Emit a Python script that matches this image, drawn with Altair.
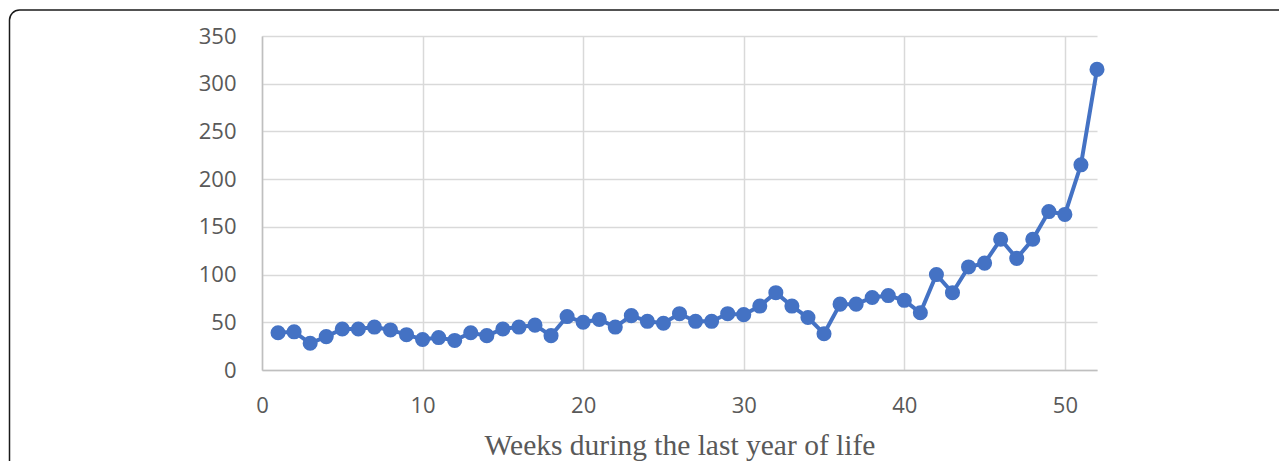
import altair as alt
import pandas as pd

weeks = list(range(1, 53))
counts = [39, 40, 28, 35, 43, 43, 45, 42, 37, 32,
          34, 31, 39, 36, 43, 45, 47, 36, 56, 50,
          53, 45, 57, 51, 49, 59, 51, 51, 59, 58,
          67, 81, 67, 55, 38, 69, 69, 76, 78, 73,
          60, 100, 81, 108, 112, 137, 117, 137, 166, 163,
          215, 315]
x_ticks = [0, 10, 20, 30, 40, 50]
y_ticks = [0, 50, 100, 150, 200, 250, 300, 350]
x_title = "Weeks during the last year of life"

df = pd.DataFrame({"week": weeks, "count": counts})

frame = alt.Chart(pd.DataFrame({"f": [0]})).mark_rect(
    fill="transparent", stroke="#1a1a1a", strokeWidth=1.5, cornerRadius=10
).encode(
    x=alt.value(-252.5), x2=alt.value(1100), y=alt.value(-26), y2=alt.value(600)
)

base = alt.Chart(df).encode(
    x=alt.X("week:Q",
            scale=alt.Scale(domain=[0, 52], nice=False, zero=True),
            axis=alt.Axis(values=x_ticks, title=x_title, tickSize=0,
                          labelPadding=25, labelFlush=False,
                          titleBaseline="alphabetic",
                          titleY=84, titleFont="Liberation Serif",
                          titleFontSize=29.5, titleFontWeight="normal",
                          titleColor="#595959")),
    y=alt.Y("count:Q",
            scale=alt.Scale(domain=[0, 350], nice=False),
            axis=alt.Axis(values=y_ticks, title=None, tickSize=0,
                          labelPadding=26, labelFlush=False)),
)

line = base.mark_line(color="#4472C4", strokeWidth=4)
pts = base.mark_circle(color="#4472C4", opacity=1, size=227)

chart = alt.layer(frame, line, pts).properties(
    width=835, height=334,
    autosize=alt.AutoSizeParams(type="none"),
    padding={"left": 254, "top": 28, "right": 182, "bottom": 91},
).configure_axis(
    grid=True, gridColor="#d9d9d9", gridWidth=1.5,
    domainColor="#bfbfbf", domainWidth=1.5,
    labelFont="Open Sans", labelFontSize=22, labelColor="#595959",
).configure_view(stroke="transparent")

chart.save("out.html", embed_options={"renderer": "svg", "actions": False})
